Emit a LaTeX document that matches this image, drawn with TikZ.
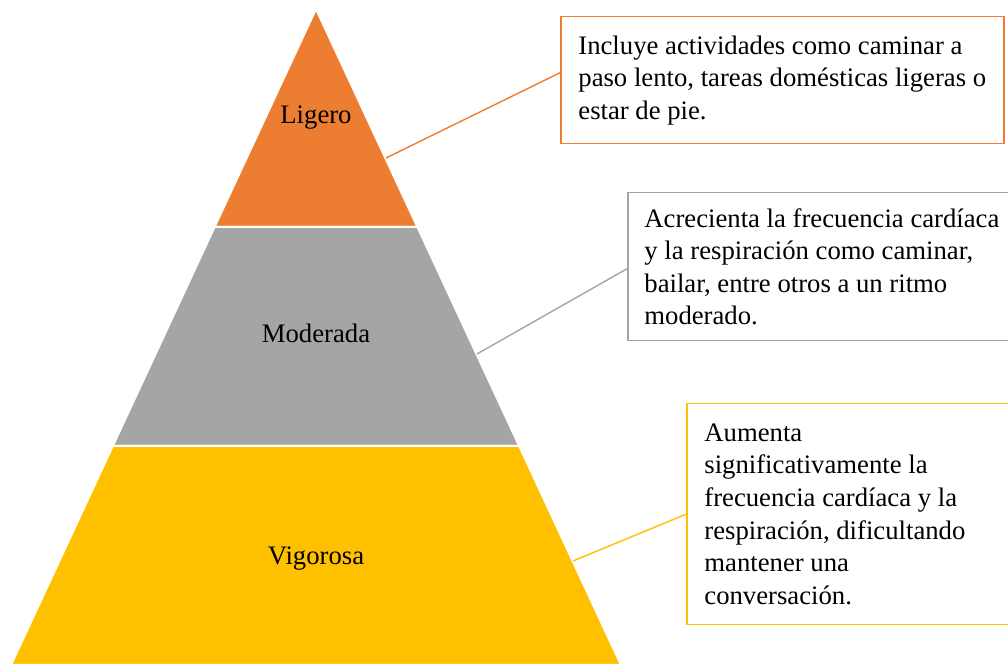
\documentclass[tikz,border=0pt]{standalone}
\usepackage{fontspec}
\setmainfont{Liberation Serif}
\definecolor{pyorange}{HTML}{ED7D31}
\definecolor{pygray}{HTML}{A5A5A5}
\definecolor{pyyellow}{HTML}{FFC000}
\begin{document}
\begin{tikzpicture}[x=0.5pt,y=-0.5pt,
  layer/.style={draw=white, line width=1pt},
  lbl/.style={font=\fontsize{13.35pt}{16.3pt}\selectfont, anchor=base, inner sep=0pt},
  infobox/.style={draw, line width=0.75pt, fill=white, anchor=north west, inner sep=0pt},
  infotext/.style={font=\fontsize{13.35pt}{16.3pt}\selectfont, align=left, anchor=west, inner sep=0pt},
  link/.style={line width=0.7pt}]
\useasboundingbox (0,0) rectangle (1008,667);
\clip (0,0) rectangle (1008,667);
% pyramid layers
\filldraw[layer, fill=pyorange] (316,9) -- (417.4,227) -- (214.6,227) -- cycle;
\filldraw[layer, fill=pygray] (214.6,227) -- (417.4,227) -- (519.2,446) -- (112.8,446) -- cycle;
\filldraw[layer, fill=pyyellow] (112.8,446) -- (519.2,446) -- (621,665) -- (11,665) -- cycle;
% labels
\node[lbl] (l1) at (316,124) {Ligero};
\node[lbl] (l2) at (316,343) {Moderada};
\node[lbl] (l3) at (316,565) {Vigorosa};
% connector start points on the pyramid edge
\coordinate (c1) at (386,158);
\coordinate (c2) at (477,354);
\coordinate (c3) at (573,561);
% boxes
\node[infobox, draw=pyorange, minimum width=221.5pt, minimum height=63.5pt] (b1) at (560,16) {};
\node[infotext, xshift=9pt] (t1) at (b1.west) {Incluye actividades como caminar a\\paso lento, tareas domésticas ligeras o\\estar de pie.};
\node[infobox, draw=pygray, minimum width=194pt, minimum height=74pt] (b2) at (627,192) {};
\node[infotext, xshift=8.5pt] (t2) at (b2.west) {Acrecienta la frecuencia cardíaca\\y la respiración como caminar,\\bailar, entre otros a un ritmo\\moderado.};
\node[infobox, draw=pyyellow, minimum width=164.5pt, minimum height=110.5pt] (b3) at (686,403) {};
\node[infotext, xshift=9pt] (t3) at (b3.west) {Aumenta\\significativamente la\\frecuencia cardíaca y la\\respiración, dificultando\\mantener una\\conversación.};
% connectors
\draw[link, pyorange] (c1) -- ([yshift=3.75pt]b1.west);
\draw[link, pygray] (c2) -- ([yshift=-1pt]b2.west);
\draw[link, pyyellow] (c3) -- (b3.west);
\end{tikzpicture}
\end{document}
